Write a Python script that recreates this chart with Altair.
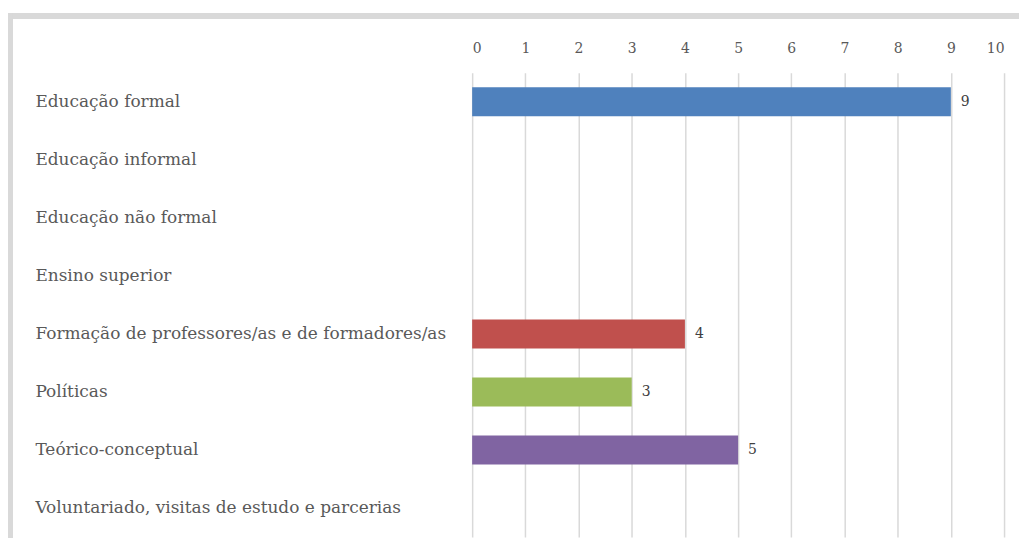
import altair as alt
import pandas as pd

categories = [
    "Educação formal",
    "Educação informal",
    "Educação não formal",
    "Ensino superior",
    "Formação de professores/as e de formadores/as",
    "Políticas",
    "Teórico-conceptual",
    "Voluntariado, visitas de estudo e parcerias",
]
values = [9, None, None, None, 4, 3, 5, None]
colors = ["#4f81bd", "#4f81bd", "#4f81bd", "#4f81bd", "#c0504d", "#9bbb59", "#8064a2", "#8064a2"]
x_ticks = list(range(0, 11))

df = pd.DataFrame({"cat": categories, "val": values, "color": colors})

yenc = alt.Y(
    "cat:N",
    sort=categories,
    scale=alt.Scale(paddingInner=0.5, paddingOuter=0.25),
    axis=alt.Axis(
        title=None,
        orient="left",
        labelAlign="left",
        labelPadding=439,
        tickSize=0,
        ticks=False,
        domain=False,
        labelFont="DejaVu Serif",
        labelFontSize=17,
        labelColor="#595959",
        labelLimit=0,
    ),
)
xenc = alt.X(
    "val:Q",
    scale=alt.Scale(domain=[0, 10], nice=False),
    axis=alt.Axis(
        title=None,
        orient="top",
        values=x_ticks,
        grid=True,
        gridColor="#d9d9d9",
        gridWidth=1.5,
        domain=False,
        ticks=False,
        labelPadding=17,
        labelFont="DejaVu Serif",
        labelFontSize=14,
        labelColor="#595959",
    ),
)

bars = alt.Chart(df).mark_bar(stroke=None).encode(
    x=xenc,
    y=yenc,
    color=alt.Color("color:N", scale=None),
)

labels = alt.Chart(df).transform_filter("datum.val != null").mark_text(
    align="left", dx=10, font="DejaVu Serif", fontSize=14, color="#404040"
).encode(
    x="val:Q",
    y=alt.Y("cat:N", sort=categories),
    text="val:Q",
)

frame_df = pd.DataFrame({"k": [1]})
frame_top = alt.Chart(frame_df).mark_rule(color="#d9d9d9", strokeWidth=6).encode(
    x=alt.value(-467), x2=alt.value(600), y=alt.value(-57)
)
frame_left = alt.Chart(frame_df).mark_rule(color="#d9d9d9", strokeWidth=6).encode(
    x=alt.value(-464), y=alt.value(-60), y2=alt.value(500)
)

chart = alt.layer(frame_top, frame_left, bars, labels).properties(
    width=534,
    height=466,
    autosize=alt.AutoSizeParams(type="none"),
    padding={"left": 466, "top": 64, "right": 15, "bottom": 0},
).configure_view(stroke=None)

chart.save("out.html", embed_options={"renderer": "svg", "actions": False})
